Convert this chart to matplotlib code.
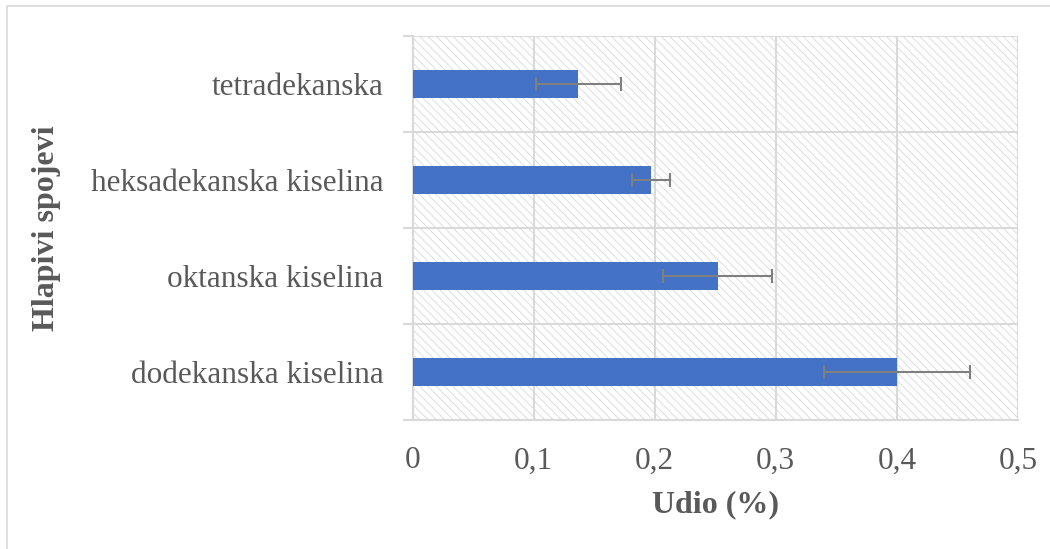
import matplotlib.pyplot as plt
from matplotlib.patches import Rectangle
import numpy as np

# podaci (odozdo prema gore)
spojevi = ["dodekanska kiselina", "oktanska kiselina",
           "heksadekanska kiselina", "tetradekanska"]
udio = [0.400, 0.252, 0.197, 0.137]
greska = [0.060, 0.045, 0.016, 0.035]
x_ticks = [0, 0.1, 0.2, 0.3, 0.4, 0.5]
x_tick_labels = ["0", "0,1", "0,2", "0,3", "0,4", "0,5"]

plt.rcParams['font.family'] = ['Liberation Serif', 'DejaVu Serif']
plt.rcParams['hatch.linewidth'] = 0.5
plt.rcParams['hatch.color'] = '#d2d2d2'

tekst = '#595959'
mreza = '#d9d9d9'

fig = plt.figure(figsize=(10.5, 5.49), dpi=100)
ax = fig.add_axes([0.3929, 0.235, 0.5766, 0.6994])

# vanjski okvir grafikona
fig.patches.append(Rectangle((7 / 1050, -0.1), 1.2, 1 - 6 / 549 + 0.1,
                             transform=fig.transFigure, fill=False,
                             edgecolor=mreza, linewidth=1.2))

y = np.arange(len(spojevi))

# pozadina s uzorkom
ax.add_patch(Rectangle((0, -0.5), 0.5, len(spojevi), facecolor='white',
                       hatch='\\\\\\\\', edgecolor='#d2d2d2', linewidth=0,
                       zorder=0))

ax.barh(y, udio, height=0.29, color='#4472C4', zorder=3)
ax.errorbar(udio, y, xerr=greska, fmt='none', ecolor='#7f7f7f',
            elinewidth=1.5, capsize=5, capthick=1.5, zorder=4)

ax.set_xlim(0, 0.5)
ax.set_ylim(-0.5, len(spojevi) - 0.5)
ax.set_xticks(x_ticks)
ax.set_xticklabels(x_tick_labels)
ax.set_yticks(y)
ax.set_yticklabels(spojevi)
ax.set_yticks(np.arange(-0.5, len(spojevi)), minor=True)

ax.tick_params(axis='x', length=0, pad=19, labelsize=22.5, labelcolor=tekst)
ax.tick_params(axis='y', which='major', length=0, pad=21, labelsize=22.5,
               labelcolor=tekst)
ax.tick_params(axis='y', which='minor', length=7, width=1.5, color=mreza)

ax.grid(axis='x', color=mreza, linewidth=1.5, zorder=1)
ax.grid(axis='y', which='minor', color=mreza, linewidth=1.5, zorder=1)
ax.set_axisbelow(True)

for s in ['top', 'right']:
    ax.spines[s].set_visible(False)
ax.spines['left'].set_color(mreza)
ax.spines['left'].set_linewidth(1.5)
ax.spines['bottom'].set_color(mreza)
ax.spines['bottom'].set_linewidth(1.5)

ax.set_xlabel("Udio (%)", fontsize=23, fontweight='bold', color=tekst,
              labelpad=11)
ax.set_ylabel("Hlapivi spojevi", fontsize=23, fontweight='bold', color=tekst)
ax.yaxis.set_label_coords(-0.58, 0.5)

fig.savefig("out.png", dpi=100)
